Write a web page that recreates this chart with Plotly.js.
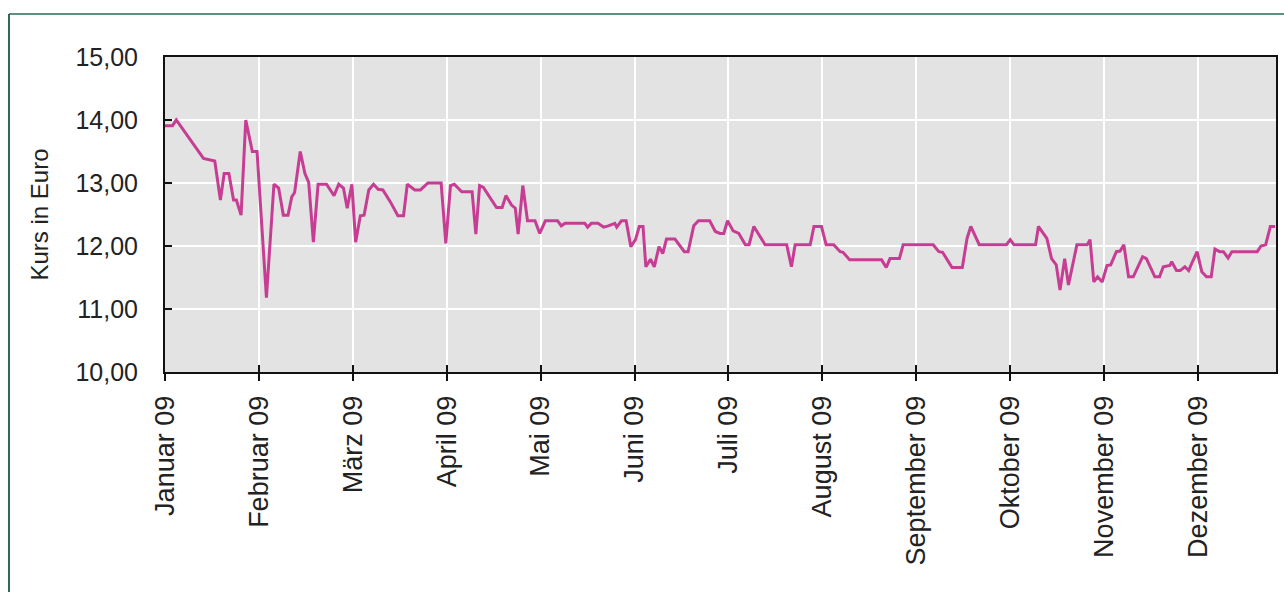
<!DOCTYPE html>
<html>
<head>
<meta charset="utf-8">
<script src="https://cdn.plot.ly/plotly-3.0.1.min.js"></script>
<style>html,body{margin:0;padding:0;background:#fff;}#chart{width:1284px;height:592px;}</style>
</head>
<body>
<div id="chart"></div>
<script>
// Month labels (x axis ticks, one per month, equally spaced)
const monthLabels = ["Januar 09","Februar 09","März 09","April 09","Mai 09","Juni 09","Juli 09","August 09","September 09","Oktober 09","November 09","Dezember 09"];
const monthPositions = [0,1,2,3,4,5,6,7,8,9,10,11];

// Share price series: position in months since 1 Jan 2009, price in euro
const timeInMonths = [
 0.00,0.08,0.12,0.41,0.53,0.59,0.63,0.68,0.73,0.76,0.81,0.86,0.93,0.98,1.08,1.16,1.21,1.26,1.31,1.35,
 1.38,1.44,1.49,1.53,1.58,1.63,1.72,1.80,1.85,1.90,1.94,1.99,2.03,2.08,2.12,2.17,2.22,2.27,2.32,2.40,
 2.48,2.54,2.58,2.66,2.72,2.80,2.94,2.99,3.04,3.08,3.16,3.27,3.31,3.35,3.39,3.53,3.59,3.63,3.69,3.73,
 3.76,3.81,3.86,3.94,3.99,4.05,4.18,4.22,4.26,4.47,4.50,4.54,4.61,4.67,4.72,4.79,4.81,4.86,4.91,4.96,
 5.01,5.05,5.09,5.12,5.17,5.21,5.26,5.30,5.34,5.43,5.53,5.57,5.63,5.68,5.80,5.86,5.91,5.95,5.99,6.05,
 6.11,6.18,6.22,6.27,6.39,6.62,6.67,6.71,6.87,6.91,6.99,7.04,7.12,7.19,7.22,7.29,7.63,7.68,7.72,7.82,
 7.86,8.18,8.24,8.28,8.38,8.49,8.54,8.58,8.67,8.96,9.00,9.04,9.27,9.30,9.39,9.44,9.49,9.53,9.58,9.62,
 9.71,9.82,9.85,9.89,9.93,9.98,10.03,10.07,10.13,10.17,10.21,10.26,10.31,10.41,10.45,10.54,10.59,10.63,10.70,10.72,
 10.77,10.81,10.86,10.90,10.94,10.99,11.04,11.09,11.14,11.18,11.23,11.27,11.32,11.36,11.63,11.67,11.72,11.77,11.82
];
const priceEuro = [
 13.91,13.91,14.00,13.39,13.35,12.73,13.15,13.15,12.73,12.73,12.49,14.00,13.50,13.50,11.18,12.98,12.92,12.49,12.49,12.78,
 12.85,13.50,13.15,13.01,12.06,12.98,12.98,12.80,12.98,12.92,12.60,12.98,12.06,12.48,12.49,12.89,12.98,12.90,12.89,12.70,
 12.48,12.48,12.98,12.89,12.89,13.00,13.00,12.04,12.96,12.98,12.86,12.86,12.19,12.96,12.93,12.61,12.61,12.80,12.65,12.60,
 12.19,12.96,12.40,12.40,12.20,12.40,12.40,12.32,12.36,12.36,12.30,12.36,12.36,12.30,12.32,12.36,12.30,12.40,12.40,11.99,
 12.10,12.31,12.31,11.67,11.79,11.67,11.99,11.88,12.11,12.11,11.91,11.91,12.32,12.40,12.40,12.23,12.20,12.20,12.40,12.24,
 12.20,12.02,12.02,12.31,12.02,12.02,11.67,12.02,12.02,12.31,12.31,12.02,12.02,11.91,11.90,11.78,11.78,11.66,11.80,11.80,
 12.02,12.02,11.91,11.90,11.66,11.66,12.12,12.31,12.02,12.02,12.10,12.02,12.02,12.31,12.12,11.80,11.70,11.30,11.80,11.38,
 12.02,12.02,12.10,11.43,11.51,11.43,11.69,11.70,11.91,11.92,12.02,11.51,11.51,11.83,11.80,11.51,11.51,11.67,11.69,11.75,
 11.61,11.61,11.67,11.61,11.75,11.91,11.59,11.51,11.51,11.95,11.91,11.91,11.81,11.91,11.91,12.00,12.02,12.31,12.31
];
const yTickValues = [10,11,12,13,14,15];
const yTickLabels = ["10,00","11,00","12,00","13,00","14,00","15,00"];

const FONT = "Liberation Sans, Arial, Helvetica, sans-serif";

const traces = [
  {
    x: timeInMonths, y: priceEuro, type: "scatter", mode: "lines",
    line: {color: "#c73d93", width: 3}, hoverinfo: "x+y", showlegend: false
  },
  { x: [], y: [], xaxis: "x2", yaxis: "y", type: "scatter", mode: "lines", showlegend: false }
];

const layout = {
  width: 1284, height: 592,
  margin: {l: 165, r: 8, t: 57, b: 220},
  paper_bgcolor: "#ffffff",
  plot_bgcolor: "#e2e3e2",
  showlegend: false,
  font: {family: FONT, color: "#222222"},
  xaxis: {
    range: [0, 11.83],
    tickmode: "array", tickvals: monthPositions, ticktext: monthLabels,
    tickangle: -90,
    tickfont: {size: 27, family: FONT, color: "#222"},
    ticks: "outside", ticklen: 7, tickwidth: 2, tickcolor: "#111",
    ticklabelstandoff: 4,
    showgrid: true, gridcolor: "#ffffff", gridwidth: 2,
    showline: true, linecolor: "#111", linewidth: 2, mirror: true,
    zeroline: false, fixedrange: true
  },
  xaxis2: {
    overlaying: "x", anchor: "y", side: "bottom",
    range: [0, 11.83],
    tickmode: "array", tickvals: monthPositions,
    showticklabels: false,
    ticks: "inside", ticklen: 7, tickwidth: 2, tickcolor: "#111",
    showgrid: false, showline: false, zeroline: false, fixedrange: true
  },
  yaxis: {
    range: [10, 15],
    tickmode: "array", tickvals: yTickValues, ticktext: yTickLabels,
    tickfont: {size: 25, family: FONT, color: "#222"},
    ticks: "inside", ticklen: 7, tickwidth: 2, tickcolor: "#111",
    ticklabelstandoff: 20,
    showgrid: true, gridcolor: "#ffffff", gridwidth: 2,
    showline: true, linecolor: "#111", linewidth: 2, mirror: true,
    zeroline: false, fixedrange: true,
    title: {text: "Kurs in Euro", font: {size: 24, family: FONT, color: "#222"}, standoff: 20}
  },
  shapes: [
    {type: "line", xref: "paper", yref: "paper", x0: -0.1404, x1: 1.01, y0: 1.1365, y1: 1.1365,
     line: {color: "#5e9080", width: 2}},
    {type: "line", xref: "paper", yref: "paper", x0: -0.1404, x1: -0.1404, y0: 1.1365, y1: -0.71,
     line: {color: "#2f6b50", width: 2}}
  ]
};

Plotly.newPlot("chart", traces, layout, {displayModeBar: false, staticPlot: true});
</script>
</body>
</html>
